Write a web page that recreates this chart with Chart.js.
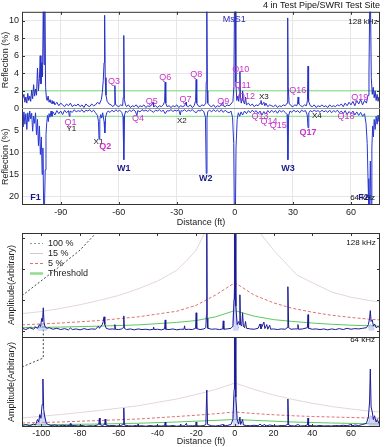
<!DOCTYPE html>
<html>
<head>
<meta charset="utf-8">
<script src="https://cdn.jsdelivr.net/npm/chart.js@4.4.0/dist/chart.umd.min.js"></script>
<style>
  html, body { margin: 0; padding: 0; background: #fff; overflow: hidden; }
  canvas { position: absolute; left: 0; }
  #reflChart { top: 0; }
  #ampChart { top: 228px; }
</style>
</head>
<body>
<canvas id="reflChart" width="385" height="228"></canvas>
<canvas id="ampChart" width="385" height="219"></canvas>
<script>
// ---- data: distance (ft) / value pairs ----
const distTicksTop = [-90, -60, -30, 0, 30, 60];
const distTicksBottom = [-100, -80, -60, -40, -20, 0, 20, 40, 60];
const reflUpTicks = [0, 2, 4, 6, 8, 10];
const reflLowTicks = [5, 10, 15, 20];
const amp128Ticks = [0, 1, 2, 3];
const amp64Ticks = [1, 2, 3];

// 128 kHz reflection (%), upper half
const refl128 = [
  [-110, 0.9], [-109, 1.6], [-108.5, 0.7], [-108, 1.3], [-107.5, 0.6], [-107, 1.7], [-106.5, 0.9], [-106, 1.4],
  [-105.5, 0.8], [-105, 2.1], [-104.5, 1.1], [-104, 2.7], [-103.5, 1.4], [-103, 2.2], [-102.5, 1.5], [-102, 4.6],
  [-101.5, 2.0], [-101, 3.4], [-100.6, 6.0], [-100.2, 2.8], [-99.8, 5.2], [-99.4, 3.6], [-99, 11.5], [-98.6, 5.0],
  [-98.2, 11.5], [-97.8, 2.4], [-97.4, 1.2], [-97, 0.9], [-96.5, 1.4], [-96, 0.7], [-95.5, 1.0], [-95, 0.6],
  [-94.5, 0.9], [-94, 0.5], [-93.5, 0.8], [-93, 0.4], [-92, 0.7], [-91, 0.3], [-90, 0.6], [-89, 0.4], [-88, 0.2],
  [-87, 0.5], [-86, 0.3], [-85, 0.6], [-84, 0.2], [-83, 0.4], [-82, 0.3], [-81, 0.5], [-80, 0.2], [-79, 0.4],
  [-78, 0.1], [-77, 0.5], [-76, 0.3], [-75, 0.2], [-74, 0.5], [-73, 0.3], [-72, 0.4], [-71, 0.7], [-70, 0.5],
  [-69, 1.0], [-68.5, 1.8], [-68, 3.2], [-67.6, 5.2], [-67.3, 10.6], [-67, 3.5], [-66.6, 1.5], [-66, 0.8],
  [-65, 0.5], [-64, 0.4], [-63, 0.2], [-62.3, 0.4], [-62, 2.6], [-61.7, 0.5], [-61, 0.3], [-60, 0.2], [-59, 0.4],
  [-58, 0.3], [-57.7, 1.2], [-57.4, 8.3], [-57.1, 1.0], [-56.5, 0.4], [-56, 0.2], [-55, 0.4], [-54, 0.1],
  [-53, 0.3], [-52, 0.2], [-51, 0.4], [-50, 0.1], [-49, 0.3], [-48, 0.2], [-47, 0.4], [-46, 0.1], [-45, 0.3],
  [-44, 0.2], [-43, 0.4], [-42.3, 0.7], [-42, 0.2], [-41, 0.3], [-40, 0.1], [-39, 0.3], [-38, 0.2], [-37, 0.4],
  [-36.3, 0.8], [-36, 3.0], [-35.7, 0.6], [-35, 0.2], [-34, 0.3], [-33, 0.1], [-32, 0.3], [-31, 0.2], [-30, 0.4],
  [-29, 0.1], [-28, 0.3], [-27, 0.2], [-26, 0.3], [-25.2, 0.7], [-25, 0.3], [-24, 0.2], [-23, 0.4], [-22, 0.1],
  [-21, 0.3], [-20.3, 0.9], [-20, 3.3], [-19.7, 0.6], [-19, 0.3], [-18, 0.2], [-17, 0.4], [-16, 0.3], [-15, 0.6],
  [-14.8, 3.0], [-14.5, 12], [-14.2, 2.0], [-14, 0.6], [-13, 0.3], [-12, 0.2], [-11, 0.4], [-10, 0.1], [-9, 0.3],
  [-8, 0.2], [-7, 0.4], [-6.2, 0.7], [-6, 0.3], [-5, 0.2], [-4, 0.4], [-3, 0.3], [-2, 0.5], [-1, 0.8],
  [-0.5, 2.5], [-0.2, 12], [0.2, 12], [0.5, 3.0], [1, 0.9], [1.5, 1.4], [2, 0.8], [2.3, 1.6], [2.6, 4.2],
  [2.9, 1.2], [3.3, 0.6], [3.7, 1.0], [4, 2.0], [4.3, 0.9], [5, 0.5], [5.5, 1.3], [6, 0.4], [7, 0.6], [8, 0.3],
  [9, 0.5], [10, 0.2], [11, 0.4], [12, 0.3], [13, 0.6], [13.5, 0.9], [14, 0.4], [15, 0.7], [15.5, 0.3], [16, 0.6],
  [17, 0.2], [18, 0.4], [19, 0.3], [20, 0.2], [21, 0.4], [22, 0.1], [23, 0.3], [24, 0.2], [25, 0.4], [26, 0.3],
  [27, 0.6], [27.2, 3.0], [27.4, 10.3], [27.6, 2.5], [28, 0.6], [29, 0.3], [30, 0.2], [31, 0.4], [32, 0.3],
  [32.4, 0.6], [32.7, 1.3], [33, 0.5], [34, 0.3], [35, 0.2], [36, 0.4], [37, 0.3], [37.5, 0.9], [37.8, 4.8],
  [38.1, 0.8], [39, 0.3], [40, 0.2], [41, 0.4], [42, 0.1], [43, 0.3], [44, 0.2], [45, 0.4], [46, 0.2], [47, 0.3],
  [48, 0.1], [49, 0.4], [50, 0.2], [51, 0.3], [52, 0.2], [53, 0.4], [54, 0.3], [55, 0.5], [56, 0.2], [57, 0.6],
  [58, 0.3], [59, 0.7], [60, 0.4], [61, 0.8], [62, 0.3], [63, 0.9], [64, 0.5], [65, 1.0], [66, 0.4], [67, 0.9],
  [68, 0.6], [68.8, 1.5], [69.3, 4.0], [69.7, 12], [70.1, 12], [70.5, 3.5], [71, 1.6], [71.5, 2.4], [72, 1.2],
  [72.5, 2.0], [73, 0.9], [73.5, 1.6], [74, 0.8], [74.5, 1.3], [75, 0.7]
];

// 64 kHz reflection (%), lower half (drawn downwards)
const refl64 = [
  [-110, 1.5], [-109.5, 4.2], [-109, 0.8], [-108.5, 3.6], [-108, 1.2], [-107.5, 4.8], [-107, 1.0], [-106.5, 3.0],
  [-106, 0.6], [-105.5, 2.4], [-105, 1.1], [-104.5, 5.2], [-104, 1.8], [-103.5, 3.4], [-103, 1.0], [-102.5, 6.0],
  [-102, 2.5], [-101.5, 8.5], [-101, 4.0], [-100.5, 10.5], [-100, 6.5], [-99.6, 15], [-99.2, 9.0], [-98.8, 23],
  [-98.4, 23], [-98, 14], [-97.6, 6.0], [-97.2, 3.2], [-96.8, 1.6], [-96.4, 3.0], [-96, 1.2], [-95.5, 2.0],
  [-95, 0.6], [-94.5, 1.8], [-94, 0.8], [-93, 1.5], [-92, 0.5], [-91, 1.2], [-90, 0.6], [-89, 1.4], [-88, 0.4],
  [-87, 1.0], [-86, 0.5], [-85.5, 1.8], [-85.2, 0.6], [-84, 0.9], [-83, 0.3], [-82, 0.8], [-81, 0.5], [-80, 0.7],
  [-79, 0.3], [-78, 0.9], [-77, 0.4], [-76, 0.6], [-75, 0.3], [-74, 0.8], [-73, 0.4], [-72, 1.0], [-71, 1.6],
  [-70.5, 3.0], [-70.2, 7.0], [-69.8, 2.5], [-69.3, 1.4], [-68.8, 2.2], [-68.3, 1.0], [-67.6, 3.0], [-67.2, 5.6],
  [-66.8, 2.0], [-66.2, 1.0], [-65.5, 0.6], [-64.5, 0.9], [-63.5, 0.4], [-62.5, 0.8], [-61.5, 0.3], [-60.5, 0.7],
  [-59.5, 0.4], [-58.5, 0.9], [-57.8, 1.8], [-57.4, 11.7], [-57, 1.5], [-56.4, 0.6], [-55.5, 0.9], [-54.5, 0.4],
  [-53.5, 0.7], [-52.5, 0.3], [-51.5, 0.6], [-50.6, 1.6], [-50.2, 0.5], [-49, 0.8], [-48, 0.3], [-47, 0.6],
  [-46, 0.4], [-45, 0.7], [-44, 0.3], [-43, 0.6], [-42, 0.9], [-41, 0.4], [-40, 0.6], [-39, 0.3], [-38, 0.7],
  [-37, 0.4], [-36, 1.2], [-35, 0.5], [-34, 0.6], [-33, 0.3], [-32, 0.7], [-31, 0.4], [-30, 0.6], [-29, 0.3],
  [-28.2, 1.5], [-27.8, 0.5], [-27, 0.6], [-26, 0.3], [-25, 0.7], [-24, 0.4], [-23, 0.6], [-22, 0.3], [-21, 0.7],
  [-20, 1.0], [-19, 0.4], [-18, 0.6], [-17, 0.3], [-16, 0.8], [-15.2, 2.0], [-14.8, 14.8], [-14.4, 2.2],
  [-14, 0.7], [-13, 0.4], [-12, 0.8], [-11, 0.3], [-10, 0.7], [-9, 0.4], [-8, 0.8], [-7, 0.3], [-6, 0.9],
  [-5, 0.4], [-4, 0.8], [-3, 1.0], [-2, 0.6], [-1.2, 2.0], [-0.6, 8.0], [-0.3, 23], [0.3, 23], [0.6, 9.0],
  [1.2, 2.5], [1.8, 1.0], [2.5, 1.8], [3.2, 0.8], [4, 1.5], [5, 0.6], [6, 1.2], [7, 0.5], [8, 1.0], [9, 0.4],
  [10, 0.9], [11, 0.5], [12, 1.2], [13, 0.6], [14, 1.5], [15, 0.7], [16, 1.3], [17, 0.5], [18, 1.0], [19, 0.4],
  [20, 0.9], [21, 0.5], [22, 1.1], [23, 0.4], [24, 0.8], [25, 0.5], [26, 0.9], [27, 1.4], [27.4, 11.7],
  [27.8, 1.6], [28.5, 0.6], [29.5, 0.9], [30.5, 0.4], [31.5, 0.8], [32.5, 0.5], [33.5, 1.0], [34.5, 0.4],
  [35.5, 0.7], [36.5, 0.5], [37.4, 1.5], [37.8, 4.4], [38.2, 1.0], [39, 0.5], [40, 0.8], [41, 0.4], [42, 0.7],
  [43, 0.5], [44, 0.9], [45, 0.4], [46, 0.8], [47, 0.5], [48, 0.9], [49, 0.4], [50, 1.0], [51, 0.5], [52, 0.8],
  [53, 0.4], [54, 1.0], [55, 0.6], [56, 1.2], [57, 0.5], [58, 1.4], [59, 0.7], [60, 1.2], [61, 0.6], [62, 1.5],
  [63, 0.8], [64, 1.6], [65, 0.9], [66, 1.8], [67, 1.2], [67.8, 3.5], [68.4, 8.0], [68.8, 16], [69.2, 23],
  [69.6, 23], [70, 12], [70.4, 23], [70.8, 9.0], [71.2, 4.0], [71.6, 6.5], [72, 2.5], [72.5, 4.8], [73, 1.8],
  [73.5, 3.6], [74, 1.5], [74.5, 3.0], [75, 1.2]
];
const threshUp = [[-110, 2.0], [75, 2.0]];
const threshLow = [[-110, 1.8], [75, 1.8]];

// amplitude traces (arbitrary units)
const amp128 = [
  [-110, 0.08], [-108, 0.04], [-106, 0.1], [-104, 0.05], [-103, 0.12], [-102, 0.08], [-101, 0.2], [-100.4, 0.14],
  [-99.8, 0.4], [-99.4, 0.3], [-99, 0.74], [-98.6, 0.25], [-98, 0.12], [-97, 0.08], [-96, 0.1], [-94, 0.05],
  [-92, 0.08], [-90, 0.04], [-88, 0.07], [-86, 0.03], [-85, 0.09], [-84, 0.04], [-82, 0.06], [-80, 0.03],
  [-78, 0.07], [-76, 0.04], [-74, 0.06], [-72, 0.05], [-70.5, 0.15], [-70, 0.08], [-68.5, 0.2], [-68, 0.3],
  [-67.6, 0.45], [-67.2, 0.2], [-66.5, 0.08], [-65, 0.05], [-63, 0.06], [-62.3, 0.05], [-62, 0.2], [-61.7, 0.05],
  [-60, 0.04], [-58.5, 0.06], [-57.7, 0.1], [-57.4, 0.48], [-57.1, 0.08], [-56, 0.04], [-54, 0.06], [-52, 0.03],
  [-50, 0.06], [-48, 0.04], [-46, 0.05], [-44, 0.03], [-42.3, 0.05], [-42, 0.12], [-41.7, 0.04], [-40, 0.05],
  [-38, 0.03], [-36.3, 0.06], [-36, 0.35], [-35.7, 0.05], [-34, 0.04], [-32, 0.06], [-30, 0.03], [-28, 0.05],
  [-26.3, 0.05], [-26, 0.16], [-25.7, 0.04], [-24, 0.05], [-22, 0.04], [-20.3, 0.08], [-20, 0.58], [-19.7, 0.07],
  [-18, 0.04], [-16, 0.06], [-15, 0.1], [-14.7, 0.5], [-14.5, 3.3], [-14.3, 0.4], [-14, 0.08], [-12, 0.05],
  [-10, 0.06], [-8, 0.04], [-6.3, 0.06], [-6, 0.32], [-5.7, 0.05], [-4, 0.06], [-2, 0.08], [-1, 0.15],
  [-0.4, 1.0], [-0.2, 3.3], [0.2, 3.3], [0.5, 0.8], [1.2, 0.2], [2, 0.3], [2.3, 0.2], [2.6, 1.16], [2.9, 0.2],
  [3.5, 0.15], [4, 0.58], [4.4, 0.15], [5, 0.1], [5.5, 0.3], [6, 0.08], [8, 0.06], [10, 0.05], [12, 0.08],
  [13, 0.22], [13.5, 0.06], [15, 0.28], [15.5, 0.07], [16.5, 0.2], [17, 0.05], [18, 0.18], [18.5, 0.05],
  [20, 0.06], [22, 0.04], [24, 0.06], [26, 0.05], [27, 0.1], [27.4, 1.42], [27.8, 0.1], [29, 0.05], [31, 0.06],
  [32.3, 0.06], [32.6, 0.2], [32.9, 0.05], [35, 0.06], [37.5, 0.1], [37.8, 0.52], [38.1, 0.08], [40, 0.05],
  [42, 0.06], [44, 0.04], [46, 0.06], [48, 0.03], [50, 0.06], [52, 0.04], [54, 0.07], [56, 0.04], [58, 0.08],
  [60, 0.05], [62, 0.07], [64, 0.06], [66, 0.08], [68, 0.1], [69, 0.2], [69.6, 0.4], [70, 0.65], [70.4, 0.3],
  [71, 0.35], [71.6, 0.15], [72.2, 0.22], [73, 0.1], [74, 0.14], [75, 0.08]
];
const amp64 = [
  [-110, 0.06], [-108, 0.1], [-106, 0.05], [-104, 0.12], [-103, 0.08], [-102, 0.3], [-101.4, 0.2], [-100.8, 0.5],
  [-100.2, 0.35], [-99.6, 0.9], [-99.2, 1.92], [-98.8, 0.7], [-98.2, 0.4], [-97.5, 0.15], [-96.5, 0.1],
  [-95, 0.06], [-93, 0.08], [-91, 0.04], [-89, 0.07], [-87, 0.05], [-85.3, 0.06], [-85, 0.14], [-84.7, 0.05],
  [-83, 0.06], [-81, 0.04], [-79, 0.06], [-77, 0.03], [-75, 0.05], [-73, 0.04], [-71, 0.08], [-70.3, 0.12],
  [-70, 0.36], [-69.7, 0.1], [-68.5, 0.06], [-67.3, 0.1], [-67, 0.32], [-66.7, 0.08], [-65, 0.05], [-63, 0.06],
  [-61, 0.04], [-59, 0.06], [-57.7, 0.1], [-57.4, 0.76], [-57.1, 0.08], [-55, 0.05], [-53, 0.04], [-51, 0.06],
  [-50.2, 0.04], [-50, 0.12], [-49.8, 0.04], [-48, 0.05], [-46, 0.03], [-44, 0.06], [-42, 0.04], [-40, 0.05],
  [-38, 0.04], [-36.3, 0.05], [-36, 0.2], [-35.7, 0.05], [-34, 0.04], [-32, 0.06], [-30, 0.03], [-28.3, 0.05],
  [-28, 0.12], [-27.7, 0.04], [-26, 0.05], [-25, 0.15], [-24.7, 0.04], [-22, 0.05], [-20.3, 0.05], [-20, 0.2],
  [-19.7, 0.05], [-18, 0.04], [-16, 0.06], [-15, 0.1], [-14.5, 1.48], [-14.1, 0.1], [-12, 0.05], [-10, 0.04],
  [-8, 0.06], [-6, 0.1], [-5.7, 0.04], [-4, 0.06], [-2, 0.1], [-1, 0.3], [-0.4, 1.5], [-0.2, 3.6], [0.2, 3.6],
  [0.5, 1.2], [1.2, 0.3], [2, 0.12], [2.6, 0.4], [3, 0.1], [4, 0.3], [4.4, 0.08], [6, 0.06], [8, 0.05],
  [10, 0.07], [12, 0.05], [13, 0.12], [14, 0.05], [15.5, 0.1], [16, 0.04], [18, 0.08], [20, 0.05], [22, 0.04],
  [24, 0.06], [26, 0.05], [27, 0.1], [27.4, 1.12], [27.8, 0.08], [29, 0.05], [31, 0.04], [32.6, 0.1], [34, 0.04],
  [36, 0.05], [37.5, 0.08], [37.8, 0.36], [38.1, 0.06], [40, 0.05], [42, 0.04], [44, 0.06], [46, 0.04],
  [48, 0.05], [50, 0.04], [52, 0.06], [54, 0.05], [56, 0.07], [58, 0.05], [60, 0.1], [61, 0.05], [62, 0.08],
  [64, 0.06], [66, 0.1], [68, 0.15], [69, 0.4], [69.6, 1.0], [70, 2.32], [70.4, 0.8], [71, 0.6], [71.6, 0.3],
  [72.2, 0.45], [73, 0.2], [73.6, 0.3], [74.4, 0.15], [75, 0.2]
];
// envelope shading (null breaks the line)
const env128 = [
  [-102, 0.06], [-101, 0.14], [-100, 0.2], [-99, 0.24], [-98, 0.12], [-97, 0.05], [-96, null],
  [-2, null], [-1, 0.25], [-0.5, 1.1], [0, 1.6], [0.5, 1.0], [1, 0.3], [2, 0.08], [3, null],
  [68, null], [69, 0.08], [70, 0.2], [71, 0.14], [72, 0.05]
];
const env64 = [
  [-102, 0.08], [-101, 0.3], [-100, 0.5], [-99, 0.58], [-98, 0.35], [-97, 0.08], [-96, null],
  [-2, null], [-1, 0.4], [-0.5, 1.0], [0, 1.3], [0.5, 0.9], [1, 0.3], [2, 0.06], [3, null],
  [68, null], [69, 0.12], [70, 0.45], [71, 0.4], [72, 0.3], [73, 0.2], [74, 0.25], [75, 0.15]
];
// distance-amplitude curves
const pct15_128 = [
  [-110, 0.55], [-100, 0.62], [-90, 0.72], [-80, 0.84], [-70, 0.98], [-60, 1.14], [-50, 1.35], [-40, 1.6],
  [-30, 1.95], [-25, 2.25], [-20, 2.6], [-16, 3.1], [-14, 3.4], [11, 3.4], [13, 3.15], [20, 2.6], [32, 1.8],
  [40, 1.55], [50, 1.25], [60, 1.08], [70, 0.97], [75, 0.93]
];
const pct5_128 = [
  [-110, 0.19], [-90, 0.25], [-70, 0.33], [-50, 0.45], [-30, 0.63], [-20, 0.82], [-10, 1.15], [0, 1.55],
  [10, 1.15], [20, 0.9], [30, 0.72], [40, 0.6], [50, 0.5], [60, 0.43], [70, 0.37], [75, 0.35]
];
const thresh128 = [
  [-110, 0.1], [-90, 0.12], [-70, 0.15], [-50, 0.19], [-30, 0.27], [-20, 0.33], [-10, 0.45], [0, 0.65],
  [10, 0.47], [20, 0.36], [30, 0.3], [40, 0.25], [50, 0.21], [60, 0.18], [70, 0.16], [75, 0.15]
];
const pct100_128 = [[-110, 1.13], [-92, 2.0], [-80, 2.6], [-71, 3.2]];
const pct100_128b = [[-110, 0.1], [-99, 0.13], [-99, -0.2]];
const pct15_64 = [
  [-110, 0.36], [-90, 0.5], [-70, 0.66], [-50, 0.85], [-30, 1.12], [-20, 1.3], [-10, 1.5], [0, 1.76],
  [10, 1.5], [20, 1.28], [30, 1.1], [40, 0.95], [50, 0.82], [60, 0.72], [70, 0.63], [75, 0.6]
];
const pct5_64 = [
  [-110, 0.16], [-90, 0.2], [-70, 0.26], [-50, 0.32], [-30, 0.42], [-20, 0.47], [-10, 0.53], [0, 0.6],
  [10, 0.54], [20, 0.49], [30, 0.45], [40, 0.42], [50, 0.4], [60, 0.38], [70, 0.36], [75, 0.35]
];
const thresh64 = [
  [-110, 0.08], [-70, 0.12], [-50, 0.15], [-30, 0.2], [-15, 0.25], [0, 0.3], [15, 0.25], [30, 0.2],
  [50, 0.16], [75, 0.12]
];
const pct100_64 = [[-110, 2.4], [-99, 2.76], [-99, 3.6]];

const keyLabels = ['100 %', '15 %', '5 %', 'Threshold'];

// feature labels: text, distance, value, axis, kind
const reflTags = [
  ['Q3', -62.5, 3.1, 'yUp', 'q'], ['Q5', -43, 0.8, 'yUp', 'q'], ['Q6', -36, 3.5, 'yUp', 'q'],
  ['Q7', -25.5, 1.0, 'yUp', 'q'], ['Q8', -20, 3.9, 'yUp', 'q'], ['Q9', -6, 0.8, 'yUp', 'q'],
  ['MsS1', -0.3, 10.1, 'yUp', 'm'], ['Q10', 3, 4.4, 'yUp', 'q'], ['Q11', 4, 2.6, 'yUp', 'q'],
  ['Q12', 6, 1.4, 'yUp', 'q'], ['X3', 15, 1.3, 'yUp', 'x'], ['Q16', 32.5, 2.0, 'yUp', 'q'],
  ['Q19', 64.5, 1.2, 'yUp', 'q'], ['128 kHz', 66.2, 9.9, 'yUp', 'x'],
  ['Q1', -85, 3.2, 'yLow', 'q'], ['Y1', -84.5, 4.6, 'yLow', 'x'], ['X1', -70.5, 7.6, 'yLow', 'x'],
  ['Q2', -67, 8.7, 'yLow', 'qb'], ['W1', -57.4, 13.8, 'yLow', 'w'], ['Q4', -50, 2.3, 'yLow', 'q'],
  ['X2', -27.4, 2.9, 'yLow', 'x'], ['F1', -103, 20.2, 'yLow', 'w'], ['W2', -15, 15.9, 'yLow', 'w'],
  ['Q13', 13, 1.8, 'yLow', 'q'], ['Q14', 17.6, 2.9, 'yLow', 'q'], ['Q15', 22.4, 3.8, 'yLow', 'q'],
  ['W3', 27.4, 13.8, 'yLow', 'w'], ['Q17', 37.8, 5.5, 'yLow', 'qb'], ['X4', 42.4, 1.6, 'yLow', 'x'],
  ['Q18', 57.4, 1.8, 'yLow', 'q'], ['64 kHz', 66, 20.3, 'yLow', 'x'], ['F2', 66.5, 20.4, 'yLow', 'w']
];
const ampTags = [
  ['128 kHz', 65.2, 2.84, 'y128', 'x'], ['64 kHz', 66, 3.48, 'y64', 'x']
];

// ---- drawing ----
const FONT = "'Liberation Sans', Arial, sans-serif";
Chart.defaults.font.family = FONT;
Chart.defaults.font.size = 9;
Chart.defaults.color = '#222';

const tagStyles = {
  q: { color: '#c832c8', font: '9px ' + FONT },
  qb: { color: '#c832c8', font: 'bold 9px ' + FONT },
  x: { color: '#111', font: '8px ' + FONT },
  w: { color: '#1a1a8c', font: 'bold 9px ' + FONT },
  m: { color: '#2a2ab4', font: '9px ' + FONT }
};

const pts = pairs => pairs.map(p => ({ x: p[0], y: p[1] }));

const tagPlugin = {
  id: 'tags',
  afterDatasetsDraw(chart, args, opts) {
    const { ctx, scales } = chart;
    ctx.save();
    ctx.textAlign = 'center';
    ctx.textBaseline = 'middle';
    opts.items.forEach(([text, d, v, axis, kind]) => {
      const st = tagStyles[kind];
      ctx.font = st.font;
      ctx.fillStyle = st.color;
      ctx.fillText(text, scales.x.getPixelForValue(d), scales[axis].getPixelForValue(v));
    });
    ctx.restore();
  }
};

// box round the plot, inward tick marks and the divider between stacked panels
const framePlugin = {
  id: 'frame',
  afterDatasetsDraw(chart, args, opts) {
    const { ctx, chartArea: a, scales } = chart;
    const seg = (x1, y1, x2, y2) => { ctx.beginPath(); ctx.moveTo(x1, y1); ctx.lineTo(x2, y2); ctx.stroke(); };
    ctx.save();
    ctx.strokeStyle = '#333';
    ctx.lineWidth = 1;
    ctx.strokeRect(a.left + 0.5, a.top + 0.5, a.right - a.left - 1, a.bottom - a.top - 1);
    scales.x.ticks.forEach(t => {
      const px = Math.round(scales.x.getPixelForValue(t.value)) + 0.5;
      seg(px, a.top, px, a.top + 3);
      seg(px, a.bottom, px, a.bottom - 3);
    });
    opts.yIds.forEach(id => {
      const s = scales[id];
      s.ticks.forEach(t => {
        const py = Math.round(s.getPixelForValue(t.value)) + 0.5;
        seg(a.left, py, a.left + 3, py);
        seg(a.right, py, a.right - 3, py);
      });
    });
    ctx.strokeStyle = opts.dividerColor;
    const py = Math.round(scales[opts.yIds[0]].bottom) + 0.5;
    seg(a.left, py, a.right, py);
    ctx.restore();
  }
};

const keyPlugin = {
  id: 'key',
  afterDatasetsDraw(chart, args, opts) {
    const { ctx, chartArea: a } = chart;
    ctx.save();
    ctx.font = '9px ' + FONT;
    ctx.textBaseline = 'middle';
    opts.items.forEach((ds, i) => {
      const y = a.top + 10.5 + i * 10;
      ctx.strokeStyle = ds.keyColor || ds.borderColor;
      ctx.lineWidth = ds.keyWidth || ds.borderWidth;
      ctx.setLineDash(ds.borderDash || []);
      ctx.beginPath(); ctx.moveTo(a.left + 8, y); ctx.lineTo(a.left + 21, y); ctx.stroke();
      ctx.setLineDash([]);
      ctx.fillStyle = '#222';
      ctx.fillText(ds.label, a.left + 26, y);
    });
    ctx.restore();
  }
};

const line = (data, yAxisID, color, extra) => Object.assign({
  data: pts(data), yAxisID, xAxisID: 'x', borderColor: color, borderWidth: 1,
  pointRadius: 0, tension: 0, borderJoinStyle: 'bevel', fill: false
}, extra || {});

const fixTicks = list => scale => { scale.ticks = list.map(v => ({ value: v })); };

// top chart: reflection
new Chart(document.getElementById('reflChart'), {
  type: 'line',
  data: {
    datasets: [
      line(refl128, 'yUp', '#2630c4'),
      line(refl64, 'yLow', '#2a38d0'),
      line(threshUp, 'yUp', '#7ddc7d'),
      line(threshLow, 'yLow', '#7ddc7d')
    ]
  },
  options: {
    responsive: false,
    animation: false,
    events: [],
    layout: { padding: { left: 0, right: 5, top: 0, bottom: 0 } },
    plugins: {
      legend: { display: false },
      tooltip: { enabled: false },
      title: {
        display: true, text: '4 in Test Pipe/SWRI Test Site', align: 'end', color: '#111',
        font: { size: 9, weight: 'normal' }, padding: { top: 0, bottom: 1 }
      },
      tags: { items: reflTags },
      frame: { yIds: ['yUp'], dividerColor: '#999' }
    },
    scales: {
      x: {
        type: 'linear', min: -110, max: 75,
        afterBuildTicks: fixTicks(distTicksTop),
        afterFit: s => { s.height = 23; },
        grid: { color: '#e6e6e6', drawTicks: false },
        border: { display: false },
        ticks: { padding: 2, autoSkip: false, maxRotation: 0 },
        title: { display: true, text: 'Distance (ft)', padding: { top: 0, bottom: 0 } }
      },
      yLow: {
        axis: 'y', type: 'linear', position: 'left', stack: 'refl', stackWeight: 1,
        min: 0, max: 22, reverse: true,
        afterBuildTicks: fixTicks(reflLowTicks),
        afterFit: s => { s.width = 22; },
        grid: { color: '#e6e6e6', drawTicks: false },
        border: { display: false },
        ticks: { padding: 3, autoSkip: false },
        title: { display: true, text: 'Reflection (%)', padding: { top: 0, bottom: 0 } }
      },
      yUp: {
        axis: 'y', type: 'linear', position: 'left', stack: 'refl', stackWeight: 1,
        min: 0, max: 11,
        afterBuildTicks: fixTicks(reflUpTicks),
        afterFit: s => { s.width = 22; },
        grid: { color: '#e6e6e6', drawTicks: false },
        border: { display: false },
        ticks: { padding: 3, autoSkip: false },
        title: { display: true, text: 'Reflection (%)', padding: { top: 0, bottom: 0 } }
      }
    }
  },
  plugins: [tagPlugin, framePlugin]
});

// bottom chart: amplitude at 128 kHz (top) and 64 kHz (bottom)
const pct100Set = line(pct100_128, 'y128', '#444', { borderDash: [2, 2], label: keyLabels[0], keyColor: '#999' });
const pct15Set = line(pct15_128, 'y128', '#e4d6dc', { label: keyLabels[1], keyColor: '#d6c6cc' });
const pct5Set = line(pct5_128, 'y128', '#dd7070', { borderDash: [3, 2], label: keyLabels[2] });
const threshSet = line(thresh128, 'y128', '#5cc85c', { label: keyLabels[3], keyWidth: 2.5, keyColor: '#8fdc8f' });

new Chart(document.getElementById('ampChart'), {
  type: 'line',
  data: {
    datasets: [
      line(amp128, 'y128', '#1a1a95'),
      line(amp64, 'y64', '#1a1a95'),
      line(env128, 'y128', '#b4baf2', { fill: 'origin', backgroundColor: 'rgba(180,186,242,0.6)', spanGaps: false }),
      line(env64, 'y64', '#b4baf2', { fill: 'origin', backgroundColor: 'rgba(180,186,242,0.6)', spanGaps: false }),
      threshSet,
      line(thresh64, 'y64', '#5cc85c'),
      pct5Set,
      line(pct5_64, 'y64', '#dd7070', { borderDash: [3, 2] }),
      pct15Set,
      line(pct15_64, 'y64', '#e4d6dc'),
      pct100Set,
      line(pct100_128b, 'y128', '#444', { borderDash: [2, 2] }),
      line(pct100_64, 'y64', '#444', { borderDash: [2, 2] })
    ]
  },
  options: {
    responsive: false,
    animation: false,
    events: [],
    layout: { padding: { left: 0, right: 5, top: 5, bottom: 0 } },
    plugins: {
      legend: { display: false },
      tooltip: { enabled: false },
      tags: { items: ampTags },
      frame: { yIds: ['y128'], dividerColor: '#333' },
      key: { items: [pct100Set, pct15Set, pct5Set, threshSet] }
    },
    scales: {
      x: {
        type: 'linear', min: -110, max: 75,
        afterBuildTicks: fixTicks(distTicksBottom),
        afterFit: s => { s.height = 20; },
        grid: { display: false, drawTicks: false },
        border: { display: false },
        ticks: { padding: 1, autoSkip: false, maxRotation: 0 },
        title: { display: true, text: 'Distance (ft)', padding: { top: 0, bottom: 0 } }
      },
      y64: {
        axis: 'y', type: 'linear', position: 'left', stack: 'amp', stackWeight: 90,
        min: 0, max: 3.6,
        afterBuildTicks: fixTicks(amp64Ticks),
        afterFit: s => { s.width = 22; },
        grid: { display: false, drawTicks: false },
        border: { display: false },
        ticks: { display: false },
        title: { display: true, text: 'Amplitude(Arbitrary)', padding: { top: 6, bottom: 0 } }
      },
      y128: {
        axis: 'y', type: 'linear', position: 'left', stack: 'amp', stackWeight: 104,
        min: -0.2, max: 3.15,
        afterBuildTicks: fixTicks(amp128Ticks),
        afterFit: s => { s.width = 22; },
        grid: { display: false, drawTicks: false },
        border: { display: false },
        ticks: { display: false },
        title: { display: true, text: 'Amplitude(Arbitrary)', padding: { top: 6, bottom: 0 } }
      }
    }
  },
  plugins: [tagPlugin, framePlugin, keyPlugin]
});
</script>
</body>
</html>
